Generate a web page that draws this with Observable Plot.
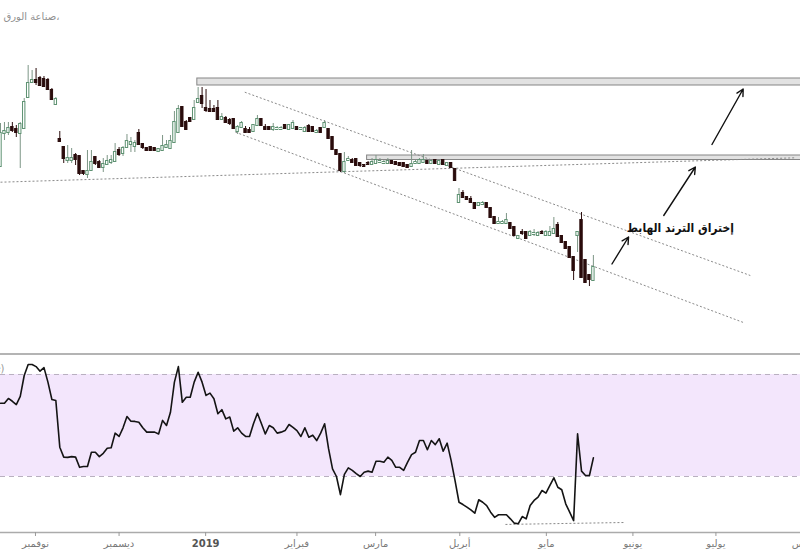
<!DOCTYPE html>
<html><head><meta charset="utf-8">
<script src="https://cdn.jsdelivr.net/npm/d3@7"></script>
<script src="https://cdn.jsdelivr.net/npm/@observablehq/plot@0.6"></script>
<style>
body{margin:0;background:#fff;font-family:"DejaVu Sans",sans-serif;}
#top{width:800px;height:353px;overflow:hidden;}
#bottom{width:800px;height:195px;border-top:2px solid #b4b4b4;overflow:hidden;}
svg{display:block;}
</style></head><body>
<div id="top"></div><div id="bottom"></div>
<script>
// ---- Daily candles (trading-day index 0..150) ----
const open  = [12.68,13.34,13.36,13.46,13.42,13.34,13.44,14.06,14.36,14.40,14.44,14.42,14.40,14.20,13.92,13.22,13.06,12.80,12.80,12.90,12.88,12.58,12.52,12.60,12.86,12.76,12.66,12.72,12.76,12.78,13.00,12.94,13.06,13.12,13.08,13.34,13.12,13.04,13.06,13.04,12.98,13.00,13.06,13.04,13.16,13.36,13.86,13.56,13.64,13.62,13.96,14.08,13.84,13.82,13.82,13.84,13.62,13.64,13.60,13.62,13.38,13.46,13.42,13.40,13.38,13.50,13.62,13.46,13.46,13.42,13.42,13.42,13.50,13.42,13.44,13.46,13.42,13.38,13.48,13.46,13.36,13.44,13.46,13.42,13.26,13.00,12.92,12.58,12.80,12.80,12.82,12.74,12.70,12.74,12.72,12.74,12.76,12.74,12.74,12.78,12.76,12.74,12.74,12.70,12.68,12.74,12.74,12.76,12.78,12.74,12.80,12.72,12.80,12.70,12.74,12.62,11.96,12.14,12.06,12.02,11.94,11.90,11.92,11.94,11.84,11.66,11.54,11.54,11.54,11.54,11.46,11.24,11.36,11.36,11.30,11.32,11.30,11.36,11.30,11.30,11.34,11.50,11.28,11.16,11.06,10.86,11.30,11.60,10.80,10.50,10.40];
const high  = [13.54,13.56,13.56,13.56,13.50,13.56,14.04,14.70,14.60,14.64,14.48,14.48,14.44,14.24,14.06,13.38,13.08,13.10,13.04,12.94,12.90,12.60,13.00,13.00,12.88,12.80,12.84,12.90,12.90,13.14,13.06,13.08,13.32,13.26,13.20,13.42,13.14,13.06,13.08,13.06,13.04,13.30,13.20,13.30,13.78,13.90,13.88,13.60,13.66,14.00,14.26,14.26,14.22,14.00,13.90,14.00,13.74,13.68,13.64,13.64,13.50,13.58,13.48,13.46,13.52,13.70,13.64,13.52,13.48,13.54,13.48,13.48,13.52,13.52,13.60,13.48,13.46,13.48,13.52,13.48,13.42,13.46,13.60,13.44,13.28,13.02,12.94,12.96,12.88,12.84,12.84,12.76,12.72,12.78,12.84,12.90,12.84,12.80,12.84,12.80,12.78,12.76,12.76,12.72,13.00,12.80,12.84,12.92,12.80,12.80,12.82,12.80,12.82,12.76,12.76,12.64,12.24,12.20,12.08,12.08,11.96,11.96,11.98,11.96,11.86,11.68,11.66,11.60,11.74,11.56,11.48,11.30,11.42,11.38,11.40,11.42,11.38,11.40,11.40,11.48,11.66,11.56,11.30,11.18,11.08,10.88,11.38,11.76,10.82,10.52,10.90];
const low   = [12.66,13.20,13.30,13.36,13.26,12.64,13.44,14.06,14.34,14.30,14.28,14.26,14.20,14.00,13.90,13.16,12.74,12.74,12.74,12.70,12.50,12.50,12.44,12.58,12.70,12.64,12.56,12.70,12.72,12.76,12.88,12.88,13.04,12.96,12.96,13.10,13.02,12.98,12.98,12.98,12.96,12.98,13.04,13.02,13.14,13.34,13.46,13.40,13.56,13.60,13.94,13.84,13.76,13.76,13.76,13.60,13.60,13.54,13.50,13.42,13.32,13.44,13.34,13.34,13.36,13.48,13.48,13.40,13.40,13.38,13.40,13.40,13.42,13.40,13.42,13.40,13.40,13.36,13.36,13.36,13.34,13.34,13.44,13.22,13.00,12.90,12.56,12.54,12.78,12.74,12.68,12.66,12.66,12.70,12.70,12.72,12.74,12.72,12.72,12.72,12.70,12.68,12.66,12.64,12.66,12.72,12.72,12.74,12.72,12.72,12.72,12.70,12.70,12.68,12.64,12.38,11.94,12.04,12.00,11.94,11.82,11.88,11.90,11.84,11.64,11.52,11.52,11.52,11.52,11.42,11.28,11.22,11.30,11.22,11.28,11.28,11.28,11.32,11.28,11.28,11.32,11.26,11.14,11.02,10.84,10.40,10.96,10.44,10.34,10.28,10.38];
const close = [13.34,13.38,13.44,13.40,13.36,13.52,13.96,14.34,14.40,14.36,14.30,14.28,14.22,14.02,14.02,13.18,12.84,12.84,12.84,12.82,12.54,12.54,12.58,12.76,12.74,12.66,12.72,12.78,12.80,12.96,12.92,13.04,13.18,13.16,13.14,13.12,13.06,13.00,13.00,13.00,13.02,13.08,13.10,13.18,13.56,13.82,13.48,13.42,13.58,13.84,14.02,13.94,13.80,13.78,13.78,13.62,13.66,13.56,13.54,13.44,13.46,13.54,13.36,13.36,13.50,13.62,13.50,13.42,13.42,13.46,13.44,13.44,13.44,13.50,13.54,13.42,13.44,13.44,13.38,13.38,13.38,13.36,13.54,13.24,13.02,12.92,12.60,12.76,12.82,12.76,12.70,12.70,12.68,12.72,12.76,12.80,12.78,12.76,12.78,12.74,12.72,12.70,12.68,12.66,12.72,12.76,12.80,12.80,12.74,12.78,12.74,12.78,12.72,12.74,12.66,12.40,12.10,12.06,12.02,11.96,11.84,11.94,11.94,11.86,11.66,11.54,11.56,11.56,11.60,11.44,11.30,11.28,11.34,11.24,11.36,11.34,11.34,11.34,11.36,11.36,11.42,11.28,11.16,11.04,10.86,10.60,11.36,10.46,10.36,10.42,10.66];

// ---- RSI(14) per candle ----
const rsi = [58.7,58.7,60.6,59.5,58.2,61.4,69.6,73.9,73.9,73.1,71.3,72.7,67.0,60.2,59.8,41.5,37.6,37.5,37.8,37.6,33.6,33.9,33.9,39.5,39.5,37.8,39.1,41.1,41.3,47.0,45.7,49.1,53.5,51.7,51.6,51.3,49.1,47.4,47.4,47.4,46.7,52.0,50.0,55.2,67.0,73.1,59.1,61.1,61.1,67.0,70.9,67.0,61.8,62.7,60.5,54.6,56.2,52.6,53.3,47.8,49.1,47.0,45.7,45.7,50.7,54.8,50.8,46.7,50.0,49.1,47.0,47.4,48.0,50.4,49.3,48.0,45.7,49.1,45.4,46.2,44.1,47.0,50.7,40.9,33.0,30.0,22.9,30.8,33.4,32.4,31.1,30.0,31.7,32.1,31.7,36.0,36.0,35.6,37.6,36.3,33.6,33.6,32.4,35.6,38.6,39.5,44.1,44.1,40.5,44.1,42.5,44.8,39.9,43.1,36.3,28.4,19.9,19.0,18.0,16.9,15.6,20.9,19.9,18.6,16.0,14.0,15.0,15.0,15.0,13.4,11.7,11.5,14.3,13.4,18.6,20.6,21.9,24.5,23.5,26.5,29.5,25.8,24.8,19.3,16.0,12.7,46.7,32.1,30.4,30.4,37.3];
const rsiLevels = [30, 70];

// ---- x axis: month labels at trading-day index ----
const monthIdx    = [8.85, 30.0, 51.9, 75.0, 94.9, 116.2, 138.1, 160.0, 181.0, 205.0];
const monthLabels = ["نوفمبر","ديسمبر","2019","فبراير","مارس","أبريل","مايو","يونيو","يوليو","أغسطس"];

// ---- drawings (index, price) ----
const boxX1 = [49.8, 92.75];
const boxX2 = [210, 210];
const boxLow = [14.30, 12.81];
const boxHigh = [14.44, 12.90];

const lineX1 = [0, 61.8, 59.45];
const lineY1 = [12.366, 14.166, 13.366];
const lineX2 = [201.1, 189.7, 187.96];
const lineY2 = [12.854, 10.50, 9.56];

const arrowX1 = [154.7, 167.8, 180.0];
const arrowY1 = [10.73, 11.70, 13.12];
const arrowX2 = [158.9, 175.8, 187.9];
const arrowY2 = [11.27, 12.67, 14.23];

const noteText = "إختراق الترند الهابط";
const noteX = 172.0, noteY = 11.44;
const titleText = "صناعة الورق،";

const rsiLineX = [127.75, 157.85];
const rsiLineY = [11.2, 11.96];

// ---- domains ----
const xDomain = [0, 202.4];
const priceDomain = [8.94, 16];
const rsiDomain = [8.04, 77.45];

// ---- build tables ----
const candles = open.map((o, i) => ({i, open: o, high: high[i], low: low[i], close: close[i], up: close[i] >= o}));
const upC = candles.filter(d => d.up), dnC = candles.filter(d => !d.up);
const boxes = boxX1.map((x, k) => ({x1: x, x2: boxX2[k], y1: boxLow[k], y2: boxHigh[k]}));
const lines = lineX1.map((x, k) => ({x1: x, y1: lineY1[k], x2: lineX2[k], y2: lineY2[k]}));
const arrows = arrowX1.map((x, k) => ({x1: x, y1: arrowY1[k], x2: arrowX2[k], y2: arrowY2[k]}));
const labelMap = new Map(monthIdx.map((d, k) => [d, monthLabels[k]]));
const hw = 0.3;

const UP_STROKE = "#5e9272", UP_WICK = "#7d9686", DN = "#2a0c0c";

const priceChart = Plot.plot({
  width: 800, height: 353, margin: 0,
  x: {domain: xDomain, axis: null},
  y: {domain: priceDomain, axis: null},
  style: {fontFamily: "DejaVu Sans", background: "#fff", overflow: "hidden"},
  marks: [
    Plot.rect(boxes, {x1: "x1", x2: "x2", y1: "y1", y2: "y2", fill: "#e2e2e2", stroke: "#858585", strokeWidth: 1}),
    Plot.link(lines, {x1: "x1", y1: "y1", x2: "x2", y2: "y2", stroke: "#8a8a8a", strokeWidth: 1, strokeDasharray: "2,2"}),
    Plot.ruleX(upC, {x: "i", y1: "low", y2: "high", stroke: UP_WICK, strokeWidth: 1}),
    Plot.ruleX(dnC, {x: "i", y1: "low", y2: "high", stroke: DN, strokeWidth: 1}),
    Plot.rect(upC, {x1: d => d.i - hw, x2: d => d.i + hw, y1: "open", y2: "close", fill: "#fff", stroke: UP_STROKE, strokeWidth: 1, insetTop: -0.5, insetBottom: -0.5}),
    Plot.rect(dnC, {x1: d => d.i - hw, x2: d => d.i + hw, y1: "open", y2: "close", fill: DN, stroke: DN, strokeWidth: 1, insetTop: -0.5, insetBottom: -0.5}),
    Plot.arrow(arrows, {x1: "x1", y1: "y1", x2: "x2", y2: "y2", stroke: "#111", strokeWidth: 1.4, headLength: 8, headAngle: 55}),
    Plot.text([noteText], {x: () => noteX, y: () => noteY, text: d => d, fontSize: 12, fontWeight: "bold", fontFamily: "DejaVu Sans Condensed", fill: "#111"}),
    Plot.text([titleText], {frameAnchor: "top-left", text: d => d, dx: 3, dy: 12, fontSize: 10, fill: "#8f8f8f", textAnchor: "start"})
  ]
});
document.getElementById("top").append(priceChart);

const rsiRows = rsi.map((v, i) => ({i, v}));
const rsiChart = Plot.plot({
  width: 800, height: 195, marginTop: 0, marginBottom: 18, marginLeft: 0, marginRight: 0,
  x: {domain: xDomain, label: null},
  y: {domain: rsiDomain, axis: null},
  style: {fontFamily: "DejaVu Sans", background: "#fff", overflow: "hidden"},
  marks: [
    Plot.rect([rsiLevels], {x1: () => xDomain[0], x2: () => xDomain[1] + 5, y1: d => d[0], y2: d => d[1], fill: "#f3e6fc"}),
    Plot.ruleY(rsiLevels, {stroke: "#b9b0c0", strokeDasharray: "5,4", strokeWidth: 1}),
    Plot.link([0], {x1: () => rsiLineX[0], y1: () => rsiLineY[0], x2: () => rsiLineX[1], y2: () => rsiLineY[1], stroke: "#888", strokeDasharray: "2,2", strokeWidth: 1}),
    Plot.line(rsiRows, {x: "i", y: "v", stroke: "#141414", strokeWidth: 1.6}),
    Plot.ruleY([rsiDomain[0]], {stroke: "#ababab", strokeWidth: 1.5}),
    Plot.axisX(monthIdx, {tickFormat: d => labelMap.get(d), tickSize: 4, tickPadding: 3, stroke: "#9a9a9a", fill: "#7a7a7a", fontSize: 10, label: null}),
    Plot.text(["RSI (14, close)"], {frameAnchor: "top-left", text: d => d, dx: 4, dy: 9, textAnchor: "end", fontSize: 10, fill: "#999"})
  ]
});
d3.select(rsiChart).selectAll("text").filter(function() { return this.textContent === "2019"; })
  .attr("font-weight", "bold").attr("fill", "#555");
document.getElementById("bottom").append(rsiChart);
</script>
</body></html>
